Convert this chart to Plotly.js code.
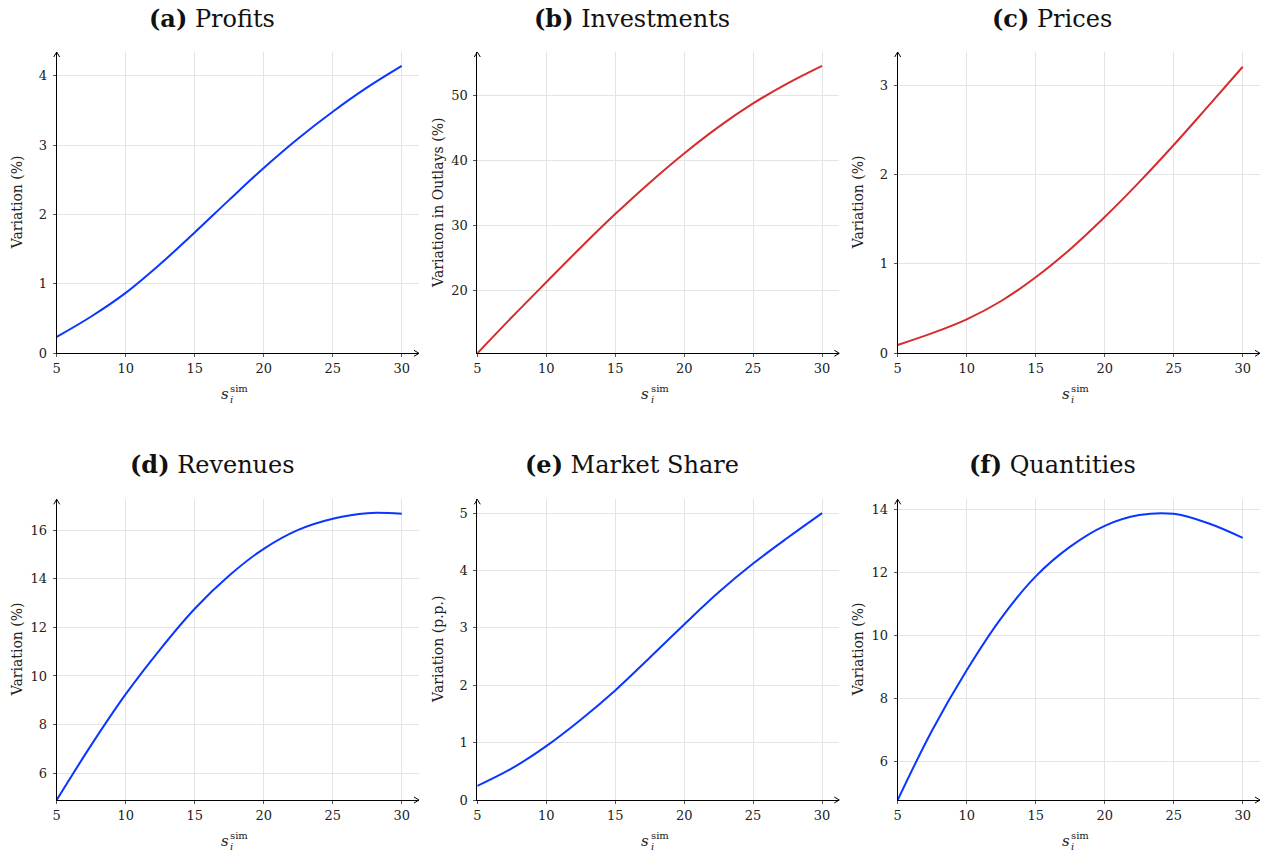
<!DOCTYPE html>
<html>
<head>
<meta charset="utf-8">
<script src="https://cdn.plot.ly/plotly-3.0.1.min.js"></script>
<style>html,body{margin:0;padding:0;background:#fff;}#chart{width:1274px;height:854px;}</style>
</head>
<body>
<div id="chart"></div>
<script>
// ---- data ----
const sSim = [5, 7.5, 10, 12.5, 15, 17.5, 20, 22.5, 25, 27.5, 30];
const profits     = [0.236, 0.53, 0.87, 1.285, 1.74, 2.21, 2.67, 3.095, 3.48, 3.83, 4.14];
const investments = [10.3, 15.85, 21.25, 26.6, 31.75, 36.6, 41.1, 45.2, 48.8, 51.9, 54.6];
const prices      = [0.093, 0.225, 0.38, 0.585, 0.85, 1.165, 1.525, 1.915, 2.33, 2.765, 3.205];
const revenues    = [4.89, 7.15, 9.25, 11.1, 12.77, 14.14, 15.24, 16.02, 16.48, 16.71, 16.68];
const marketShare = [0.245, 0.55, 0.94, 1.40, 1.91, 2.48, 3.06, 3.62, 4.12, 4.57, 5.0];
const quantities  = [4.79, 7.0, 8.9, 10.55, 11.87, 12.81, 13.47, 13.81, 13.85, 13.55, 13.09];

const panelTitles = ["<b>(a)</b> Profits", "<b>(b)</b> Investments", "<b>(c)</b> Prices",
                     "<b>(d)</b> Revenues", "<b>(e)</b> Market Share", "<b>(f)</b> Quantities"];
const yTitles = ["Variation (%)", "Variation in Outlays (%)", "Variation (%)",
                 "Variation (%)", "Variation (p.p.)", "Variation (%)"];
const xTitleBase = "s", xTitleSub = "i", xTitleSup = "sim";
const xTickVals = [5, 10, 15, 20, 25, 30];
const yTickVals = [[0,1,2,3,4],[20,30,40,50],[0,1,2,3],[6,8,10,12,14,16],[0,1,2,3,4,5],[6,8,10,12,14]];
const series = [profits, investments, prices, revenues, marketShare, quantities];

// ---- styling / layout ----
const BLUE = "#0a36ff", RED = "#d72c2c";
const colors = [BLUE, RED, RED, BLUE, BLUE, BLUE];
const yRanges = [[0,4.34],[10.3,56.73],[0,3.37],[4.89,17.28],[0,5.24],[4.79,14.31]];
const W = 1274, H = 854;
const colPx = [[56.7,419],[477.3,839.3],[897.7,1260]];
const rowPx = [[52,353.3],[499.3,800]];
const titleX = [212, 632, 1052];
const titleY = [18, 464];
const FONT = "'DejaVu Serif', 'Liberation Serif', serif";

const traces = [];
const layout = {
  width: W, height: H,
  margin: {l:0, r:0, t:0, b:0},
  paper_bgcolor: "#fff", plot_bgcolor: "#fff",
  showlegend: false,
  font: {family: FONT, size: 13, color: "#222"},
  annotations: [],
  shapes: []
};

function px(x, y) { return [(x / W).toFixed(5), (1 - y / H).toFixed(5)]; }
function ann(x, y, text, size, opts) {
  return Object.assign({
    xref: "paper", yref: "paper", x: x / W, y: 1 - y / H, text: text, showarrow: false,
    xanchor: "center", yanchor: "middle", borderpad: 0, font: {family: FONT, size: size, color: "#222"}
  }, opts || {});
}

for (let i = 0; i < 6; i++) {
  const r = Math.floor(i/3), c = i % 3;
  const n = i === 0 ? "" : String(i+1);
  const xa = "xaxis" + n, ya = "yaxis" + n;
  const xr = "x" + n, yr = "y" + n;
  traces.push({
    x: sSim, y: series[i], xaxis: xr, yaxis: yr,
    type: "scatter", mode: "lines",
    line: {color: colors[i], width: 2, shape: "spline", smoothing: 1},
    hoverinfo: "x+y"
  });
  layout[xa] = {
    domain: [colPx[c][0]/W, colPx[c][1]/W],
    anchor: yr, range: [5, 31.25],
    tickvals: xTickVals, ticks: "outside", ticklen: 3, tickcolor: "#555",
    showline: true, linecolor: "#000", linewidth: 1,
    showgrid: true, gridcolor: "#e4e4e4", gridwidth: 1, zeroline: false,
    tickfont: {family: FONT, size: 13, color: "#222"},
    ticklabelstandoff: 0
  };
  layout[ya] = {
    domain: [1 - rowPx[r][1]/H, 1 - rowPx[r][0]/H],
    anchor: xr, range: yRanges[i],
    tickvals: yTickVals[i], ticks: "outside", ticklen: 3, tickcolor: "#555",
    showline: true, linecolor: "#000", linewidth: 1,
    showgrid: true, gridcolor: "#e4e4e4", gridwidth: 1, zeroline: false,
    tickfont: {family: FONT, size: 13, color: "#222"},
    ticklabelstandoff: 3
  };
  const cx = (colPx[c][0] + colPx[c][1]) / 2, yb = rowPx[r][1];
  // panel title
  layout.annotations.push(ann(titleX[c], titleY[r], panelTitles[i], 24, {font: {family: FONT, size: 24, color: "#111"}}));
  // y-axis title
  layout.annotations.push(ann(colPx[c][0] - 40, (rowPx[r][0] + rowPx[r][1]) / 2, yTitles[i], 14, {textangle: -90}));
  // x-axis title: s with stacked sub/superscript
  layout.annotations.push(ann(cx - 8, yb + 41, "<i>" + xTitleBase + "</i>", 15, {xanchor: "right"}));
  layout.annotations.push(ann(cx - 8.5, yb + 35, xTitleSup, 10, {xanchor: "left"}));
  layout.annotations.push(ann(cx - 8.5, yb + 46, "<i>" + xTitleSub + "</i>", 10, {xanchor: "left"}));
  // axis arrowheads (open chevrons)
  const xr0 = colPx[c][1];
  let a = px(xr0 - 5, yb - 3), b = px(xr0, yb), d = px(xr0 - 5, yb + 3);
  layout.shapes.push({type: "path", xref: "paper", yref: "paper",
    path: `M${a[0]},${a[1]} L${b[0]},${b[1]} L${d[0]},${d[1]}`,
    line: {color: "#000", width: 1}});
  const xl = colPx[c][0], yt = rowPx[r][0];
  a = px(xl - 3, yt + 5); b = px(xl, yt); d = px(xl + 3, yt + 5);
  layout.shapes.push({type: "path", xref: "paper", yref: "paper",
    path: `M${a[0]},${a[1]} L${b[0]},${b[1]} L${d[0]},${d[1]}`,
    line: {color: "#000", width: 1}});
}

Plotly.newPlot("chart", traces, layout, {displayModeBar: false, staticPlot: true});
</script>
</body>
</html>
